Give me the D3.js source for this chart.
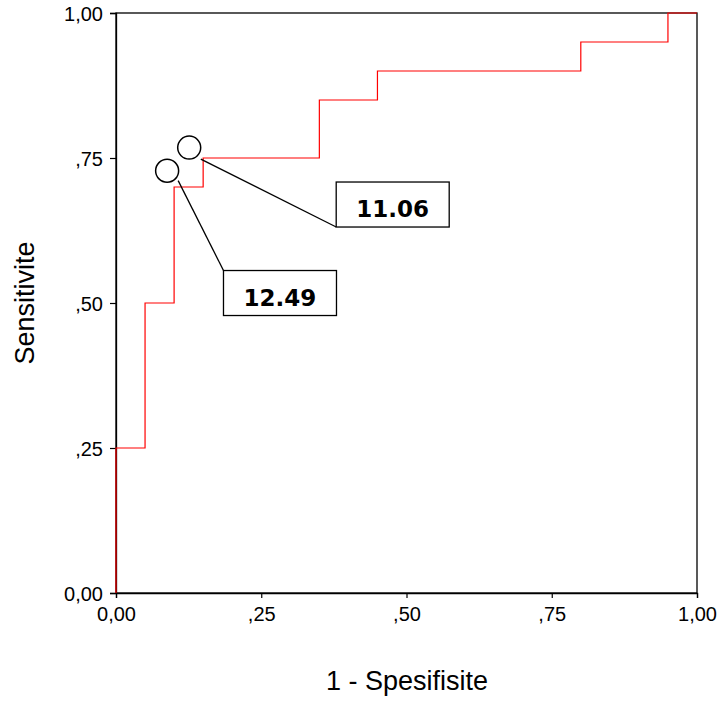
<!DOCTYPE html>
<html>
<head>
<meta charset="utf-8">
<script src="https://cdn.jsdelivr.net/npm/d3@7"></script>
<style>
  body { margin: 0; background: #fff; }
  svg { display: block; }
</style>
</head>
<body>
<svg width="721" height="702"></svg>
<script>
// ROC curve steps (1 - specificity, sensitivity)
var fpr = [0, 0, 0.05, 0.05, 0.10, 0.10, 0.15, 0.15, 0.35, 0.35, 0.45, 0.45, 0.80, 0.80, 0.95, 0.95, 1.00];
var tpr = [0, 0.25, 0.25, 0.50, 0.50, 0.70, 0.70, 0.75, 0.75, 0.85, 0.85, 0.90, 0.90, 0.95, 0.95, 1.00, 1.00];
var ticks = [0, 0.25, 0.5, 0.75, 1];
var tick_labels = ['0,00', ',25', ',50', ',75', '1,00'];

// cut-off annotations: circle, leader start, box anchor
var cut_labels = ['11.06', '12.49'];
var circ_x = [0.126, 0.088], circ_y = [0.768, 0.728];
var lead_x = [0.146, 0.107], lead_y = [0.748, 0.711];
var box_x = [0.379, 0.185], box_y = [0.631, 0.556];

var svg = d3.select('svg');
var x = d3.scaleLinear().domain([0, 1]).range([116, 697]);
var y = d3.scaleLinear().domain([0, 1]).range([593, 13]);
var font = "'Liberation Sans', Arial, sans-serif";

// frame
svg.append('rect')
   .attr('x', x(0)).attr('y', y(1))
   .attr('width', x(1) - x(0)).attr('height', y(0) - y(1))
   .attr('fill', 'none').attr('stroke', '#000').attr('stroke-width', 1.3);

// axes
var xAxis = svg.append('g').attr('transform', 'translate(0,' + y(0) + ')')
   .call(d3.axisBottom(x).tickValues(ticks).tickFormat((d, i) => tick_labels[i]).tickSize(5).tickPadding(9));
var yAxis = svg.append('g').attr('transform', 'translate(' + x(0) + ',0)')
   .call(d3.axisLeft(y).tickValues(ticks).tickFormat((d, i) => tick_labels[i]).tickSize(6).tickPadding(7));
[xAxis, yAxis].forEach(function(g) {
  g.select('.domain').attr('stroke-width', 1.3);
  g.selectAll('line').attr('stroke-width', 1.2);
  g.selectAll('text').attr('font-family', font).attr('font-size', '20px').attr('fill', '#000');
});
yAxis.selectAll('text').attr('dy', '0.36em');

// ROC line
var pts = fpr.map((d, i) => [d, tpr[i]]);
svg.append('path')
   .datum(pts)
   .attr('d', d3.line().x(d => x(d[0])).y(d => y(d[1])))
   .attr('fill', 'none')
   .attr('stroke', '#ff0000')
   .attr('stroke-width', 1.2);

// annotations
var ann = cut_labels.map((d, i) => ({label: d, cx: circ_x[i], cy: circ_y[i], lx: lead_x[i], ly: lead_y[i], bx: box_x[i], by: box_y[i], top: i === 1}));
var bw = 113, bh = 45;
var g = svg.append('g');
g.selectAll('circle').data(ann).enter().append('circle')
   .attr('cx', d => x(d.cx)).attr('cy', d => y(d.cy)).attr('r', 11.5)
   .attr('fill', 'none').attr('stroke', '#000').attr('stroke-width', 1.5);
g.selectAll('line').data(ann).enter().append('line')
   .attr('x1', d => x(d.lx)).attr('y1', d => y(d.ly))
   .attr('x2', d => x(d.bx)).attr('y2', d => y(d.by))
   .attr('stroke', '#000').attr('stroke-width', 1.3);
g.selectAll('rect').data(ann).enter().append('rect')
   .attr('x', d => x(d.bx))
   .attr('y', d => d.top ? y(d.by) : y(d.by) - bh)
   .attr('width', bw).attr('height', bh)
   .attr('fill', '#fff').attr('stroke', '#000').attr('stroke-width', 1.3);
g.selectAll('text').data(ann).enter().append('text')
   .attr('x', d => x(d.bx) + bw / 2)
   .attr('y', d => (d.top ? y(d.by) : y(d.by) - bh) + 35)
   .attr('text-anchor', 'middle')
   .attr('font-family', "'DejaVu Sans', Verdana, sans-serif")
   .attr('font-weight', 'bold')
   .attr('font-size', '23px')
   .text(d => d.label);

// titles
svg.append('text')
   .attr('x', 407).attr('y', 690)
   .attr('text-anchor', 'middle')
   .attr('font-family', font).attr('font-size', '27px')
   .text('1 - Spesifisite');
svg.append('text')
   .attr('transform', 'translate(34,303) rotate(-90)')
   .attr('text-anchor', 'middle')
   .attr('font-family', font).attr('font-size', '27px')
   .text('Sensitivite');
</script>
</body>
</html>
